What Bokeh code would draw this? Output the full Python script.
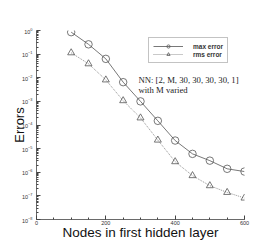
from bokeh.plotting import figure
from bokeh.models import (Range1d, FixedTicker, SingleIntervalTicker, LogTickFormatter,
                          Label, Legend, LegendItem)
from bokeh.embed import file_html
from bokeh.resources import INLINE

nodes = [100, 150, 200, 250, 300, 350, 400, 450, 500, 550, 600]
max_error = [0.85, 0.26, 0.063, 6.5e-3, 1.0e-3, 1.5e-4, 2.2e-5, 6.0e-6, 3.1e-6, 1.4e-6, 1.07e-6]
rms_error = [0.114, 0.039, 8.1e-3, 1.07e-3, 2.0e-4, 2.3e-5, 2.8e-6, 7.2e-7, 2.7e-7, 1.4e-7, 8.1e-8]
y_major = [1e-8, 1e-7, 1e-6, 1e-5, 1e-4, 1e-3, 1e-2, 1e-1, 1e0]
y_minor = [m * 10.0 ** e for e in range(-8, 0) for m in range(2, 10)]
x_title = "Nodes in first hidden layer"
y_title = "Errors"
note1 = "NN: [2, M, 30, 30, 30, 30, 1]"
note2 = "with M varied"

SANS = "Liberation Sans"
SERIF = "Liberation Serif"

p = figure(width=277, height=246, y_axis_type="log",
           x_range=Range1d(0, 600), y_range=Range1d(1e-8, 1e0),
           output_backend="svg", toolbar_location=None,
           min_border_left=36, min_border_right=33, min_border_top=30, min_border_bottom=27)
p.outline_line_color = None
p.grid.visible = False
p.background_fill_color = "white"

# axes
p.xaxis.ticker = SingleIntervalTicker(interval=200, num_minor_ticks=4)
p.yaxis.ticker = FixedTicker(ticks=y_major, minor_ticks=y_minor)
p.yaxis.formatter = LogTickFormatter()
for ax in (p.xaxis[0], p.yaxis[0]):
    ax.axis_line_color = "#444444"
    ax.axis_line_width = 0.8
    ax.major_tick_in = 4
    ax.major_tick_out = 0
    ax.minor_tick_in = 2
    ax.minor_tick_out = 0
    ax.major_tick_line_color = "#444444"
    ax.minor_tick_line_color = "#444444"
    ax.major_label_text_font = SANS
    ax.major_label_text_font_size = "5.5px"
    ax.major_label_text_color = "#333333"
    ax.axis_label_text_font = SANS
    ax.axis_label_text_font_style = "normal"
    ax.axis_label_text_color = "#111111"
p.xaxis.major_label_standoff = 1
p.yaxis.major_label_standoff = 4
p.xaxis.axis_label = x_title
p.yaxis.axis_label = y_title
p.xaxis.axis_label_text_font_size = "13.5px"
p.yaxis.axis_label_text_font_size = "13px"
p.xaxis.axis_label_standoff = -3
p.yaxis.axis_label_standoff = -8

line_col = "#555555"
r1 = p.line(nodes, max_error, line_color=line_col, line_width=0.8)
m1 = p.scatter(nodes, max_error, marker="circle", size=7.5, fill_color="white",
               fill_alpha=0, line_color=line_col, line_width=0.8)
r2 = p.line(nodes, rms_error, line_color="#777777", line_width=0.8, line_dash="1 1")
m2 = p.scatter(nodes, rms_error, marker="triangle", size=7, fill_color="white",
               fill_alpha=0, line_color=line_col, line_width=0.8)

legend = Legend(items=[LegendItem(label="max error", renderers=[r1, m1]),
                       LegendItem(label="rms error", renderers=[r2, m2])],
                location=(112, 156), orientation="vertical",
                label_text_font=SANS, label_text_font_size="6.5px", label_text_font_style="bold",
                label_text_color="#333333",
                glyph_width=30, glyph_height=8, label_height=8, label_standoff=10,
                spacing=0, padding=4, margin=0,
                border_line_color="#888888", border_line_width=0.8,
                background_fill_alpha=1)
p.add_layout(legend, "center")

p.add_layout(Label(x=294, y=10 ** -2.09, text=note1, text_font=SERIF,
                   text_font_size="8.7px", text_color="#222222",
                   text_align="left", text_baseline="middle"))
p.add_layout(Label(x=294, y=10 ** -2.51, text=note2, text_font=SERIF,
                   text_font_size="8.7px", text_color="#222222",
                   text_align="left", text_baseline="middle"))

open("out.html", "w").write(file_html(p, INLINE))
